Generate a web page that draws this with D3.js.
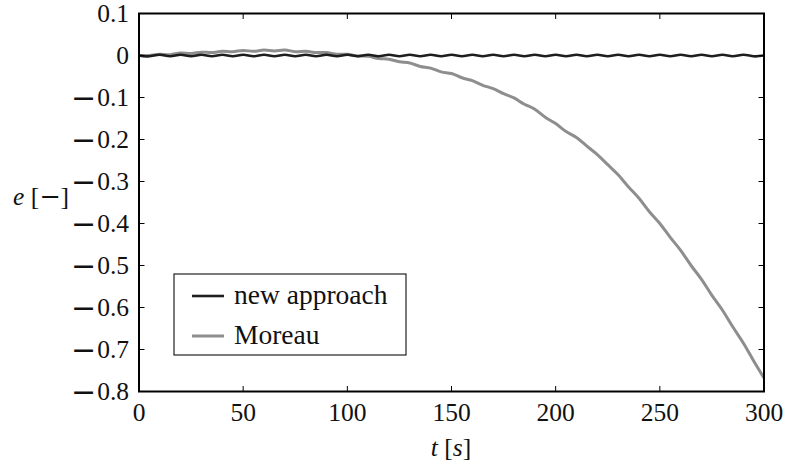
<!DOCTYPE html>
<html><head><meta charset="utf-8">
<script src="https://cdn.jsdelivr.net/npm/d3@7"></script>
<style>body{margin:0;background:#fff}svg{display:block}</style>
</head><body>
<svg id="c" width="797" height="463"></svg>
<script>
const time = d3.range(0, 301, 5);
const newApproach = [
 0.000,-0.0018,0.0018,-0.0018,0.0018,-0.0018,0.0018,-0.0018,0.0018,-0.0018,
 0.0018,-0.0018,0.0018,-0.0018,0.0018,-0.0018,0.0018,-0.0018,0.0018,-0.0018,
 0.0018,-0.0018,0.0018,-0.0018,0.0018,-0.0018,0.0018,-0.0018,0.0018,-0.0018,
 0.0018,-0.0018,0.0018,-0.0018,0.0018,-0.0018,0.0018,-0.0018,0.0018,-0.0018,
 0.0018,-0.0018,0.0018,-0.0018,0.0018,-0.0018,0.0018,-0.0018,0.0018,-0.0018,
 0.0018,-0.0018,0.0018,-0.0018,0.0018,-0.0018,0.0018,-0.0018,0.0018,-0.0018,
 0.000];
const moreau = [
 0.000,0.000,0.003,0.002,0.006,0.005,0.008,0.007,0.010,0.009,
 0.012,0.010,0.013,0.011,0.013,0.009,0.010,0.007,0.007,0.003,
 0.003,-0.001,-0.002,-0.007,-0.009,-0.015,-0.018,-0.026,-0.030,-0.039,
 -0.043,-0.053,-0.060,-0.071,-0.079,-0.091,-0.101,-0.116,-0.128,-0.147,
 -0.162,-0.181,-0.195,-0.216,-0.236,-0.260,-0.284,-0.313,-0.340,-0.372,
 -0.400,-0.433,-0.464,-0.500,-0.533,-0.571,-0.606,-0.646,-0.684,-0.727,
 -0.768];
const xTicks = [0,50,100,150,200,250,300];
const yTicks = [0.1,0,-0.1,-0.2,-0.3,-0.4,-0.5,-0.6,-0.7,-0.8];
const seriesNames = ["new approach","Moreau"];
const seriesColors = ["#1e1e1e","#8e8e8e"];

const svg = d3.select("#c");
const L=139, R=764, T=13.5, B=391.5;
const x = d3.scaleLinear().domain([0,300]).range([L,R]);
const y = d3.scaleLinear().domain([-0.8,0.1]).range([B,T]);
const FONT = "Liberation Serif";
const FS = 25.5;

const line = d3.line().x((d,i)=>x(time[i])).y(d=>y(d)).curve(d3.curveNatural);
svg.append("path").datum(moreau).attr("d",line).attr("fill","none")
  .attr("stroke",seriesColors[1]).attr("stroke-width",3);
svg.append("path").datum(newApproach).attr("d",line).attr("fill","none")
  .attr("stroke",seriesColors[0]).attr("stroke-width",2.6);

// ticks (inward on all sides)
const tl=5.5;
const g = svg.append("g").attr("stroke","#000").attr("stroke-width",1);
xTicks.forEach(v=>{
  g.append("line").attr("x1",x(v)).attr("x2",x(v)).attr("y1",B).attr("y2",B-tl);
  g.append("line").attr("x1",x(v)).attr("x2",x(v)).attr("y1",T).attr("y2",T+tl);
});
yTicks.forEach(v=>{
  g.append("line").attr("x1",L).attr("x2",L+tl).attr("y1",y(v)).attr("y2",y(v));
  g.append("line").attr("x1",R).attr("x2",R-tl).attr("y1",y(v)).attr("y2",y(v));
});
svg.append("rect").attr("x",L).attr("y",T).attr("width",R-L).attr("height",B-T)
  .attr("fill","none").attr("stroke","#000").attr("stroke-width",2);

function txt(sel){ return sel.attr("font-family",FONT).attr("font-size",FS).attr("fill","#111"); }

// tick labels
txt(svg.append("g").selectAll("text").data(xTicks).join("text")
  .attr("x",d=>x(d)).attr("y",421).attr("text-anchor","middle")).text(d=>d);
const yl = txt(svg.append("g").selectAll("text").data(yTicks).join("text")
  .attr("x",129).attr("y",d=>y(d)+8.5).attr("text-anchor","end"));
yl.each(function(d){
  const t=d3.select(this);
  if(d<0){
    t.append("tspan").attr("font-family","DejaVu Serif").attr("font-size",30).attr("dy",1.5).text("\u2212");
    t.append("tspan").attr("dx",1).attr("dy",-1.5).text(d3.format(".1f")(-d));
  } else t.text(d===0?"0":d3.format(".1f")(d));
});

// axis labels
const xl = txt(svg.append("text").attr("x",451).attr("y",456).attr("text-anchor","middle"));
xl.append("tspan").attr("font-style","italic").text("t");
xl.append("tspan").text(" [");
xl.append("tspan").attr("font-style","italic").text("s");
xl.append("tspan").text("]");
const ylab = txt(svg.append("text").attr("x",69).attr("y",205).attr("text-anchor","end"));
ylab.append("tspan").attr("font-style","italic").text("e");
ylab.append("tspan").text(" [");
ylab.append("tspan").attr("font-family","DejaVu Serif").text("\u2212");
ylab.append("tspan").text("]");

// legend
const lg = svg.append("g");
lg.append("rect").attr("x",174).attr("y",274).attr("width",232).attr("height",81)
  .attr("fill","#fff").attr("stroke","#222").attr("stroke-width",1.2);
seriesNames.forEach((n,i)=>{
  const yy = 296 + i*40;
  lg.append("line").attr("x1",192).attr("x2",224).attr("y1",yy).attr("y2",yy)
    .attr("stroke",seriesColors[i]).attr("stroke-width",i?3:2.6);
  txt(lg.append("text").attr("x",234).attr("y",yy+8)).attr("font-size",27.5).text(n);
});
</script>
</body></html>
